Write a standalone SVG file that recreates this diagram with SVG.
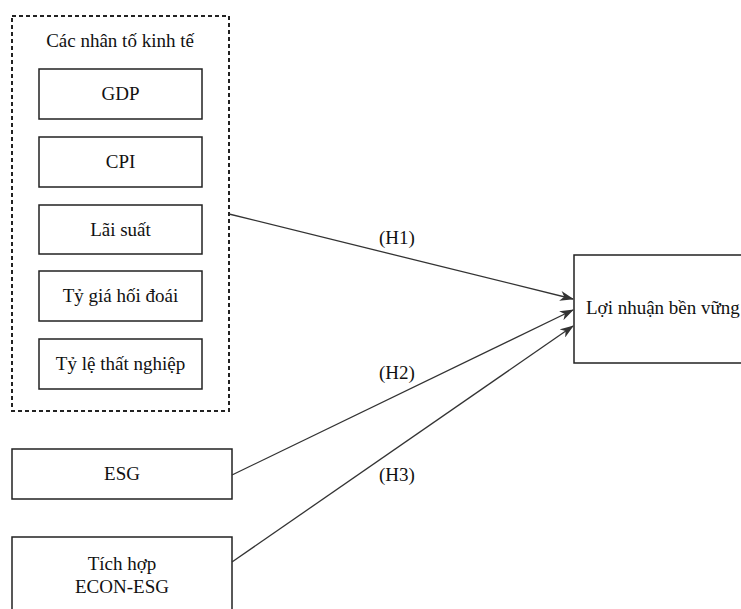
<svg xmlns="http://www.w3.org/2000/svg" width="741" height="609" viewBox="0 0 741 609">
<style>
.box{fill:#fff;stroke:#222;stroke-width:1.5}
.grp{fill:none;stroke:#222;stroke-width:2;stroke-dasharray:4 3}
.t{font-family:"Liberation Serif","Times New Roman",serif;font-size:19px;fill:#111;text-anchor:middle}
.c{fill:none;stroke:#333;stroke-width:1.3}
</style>
<defs>
<marker id="ah" markerWidth="14" markerHeight="10" refX="13" refY="5" orient="auto" markerUnits="userSpaceOnUse">
<path d="M0,0 L14,5 L0,10 L4,5 Z" fill="#333"/>
</marker>
</defs>
<rect width="741" height="609" fill="#fff"/>
<g id="econ-group">
<rect class="grp" x="12" y="16" width="217" height="395"/>
<text class="t" x="120" y="47">Các nhân tố kinh tế</text>
</g>
<g id="gdp"><rect class="box" x="39" y="69" width="163" height="50"/><text class="t" x="120.5" y="100">GDP</text></g>
<g id="cpi"><rect class="box" x="39" y="137" width="163" height="50"/><text class="t" x="120.5" y="168">CPI</text></g>
<g id="laisuat"><rect class="box" x="39" y="205" width="163" height="49"/><text class="t" x="120.5" y="236">Lãi suất</text></g>
<g id="tygia"><rect class="box" x="39" y="271" width="163" height="50"/><text class="t" x="120.5" y="302">Tỷ giá hối đoái</text></g>
<g id="tyle"><rect class="box" x="39" y="339" width="163" height="50"/><text class="t" x="120.5" y="370">Tỷ lệ thất nghiệp</text></g>
<g id="esg"><rect class="box" x="12" y="449" width="220" height="50"/><text class="t" x="122" y="480">ESG</text></g>
<g id="tichhop"><rect class="box" x="12" y="537" width="220" height="80"/><text class="t" x="122" y="570">Tích hợp</text><text class="t" x="122" y="593">ECON-ESG</text></g>
<g id="loinhuan"><rect class="box" x="574" y="255" width="180" height="108"/><text class="t" x="586" y="314" style="text-anchor:start">Lợi nhuận bền vững</text></g>
<g id="connectors">
<line class="c" x1="229" y1="214" x2="573" y2="299" marker-end="url(#ah)"/>
<line class="c" x1="232" y1="475" x2="573" y2="310" marker-end="url(#ah)"/>
<line class="c" x1="232" y1="562" x2="573" y2="326" marker-end="url(#ah)"/>
<text class="t" x="397" y="244">(H1)</text>
<text class="t" x="397" y="379">(H2)</text>
<text class="t" x="397" y="481">(H3)</text>
</g>
</svg>
